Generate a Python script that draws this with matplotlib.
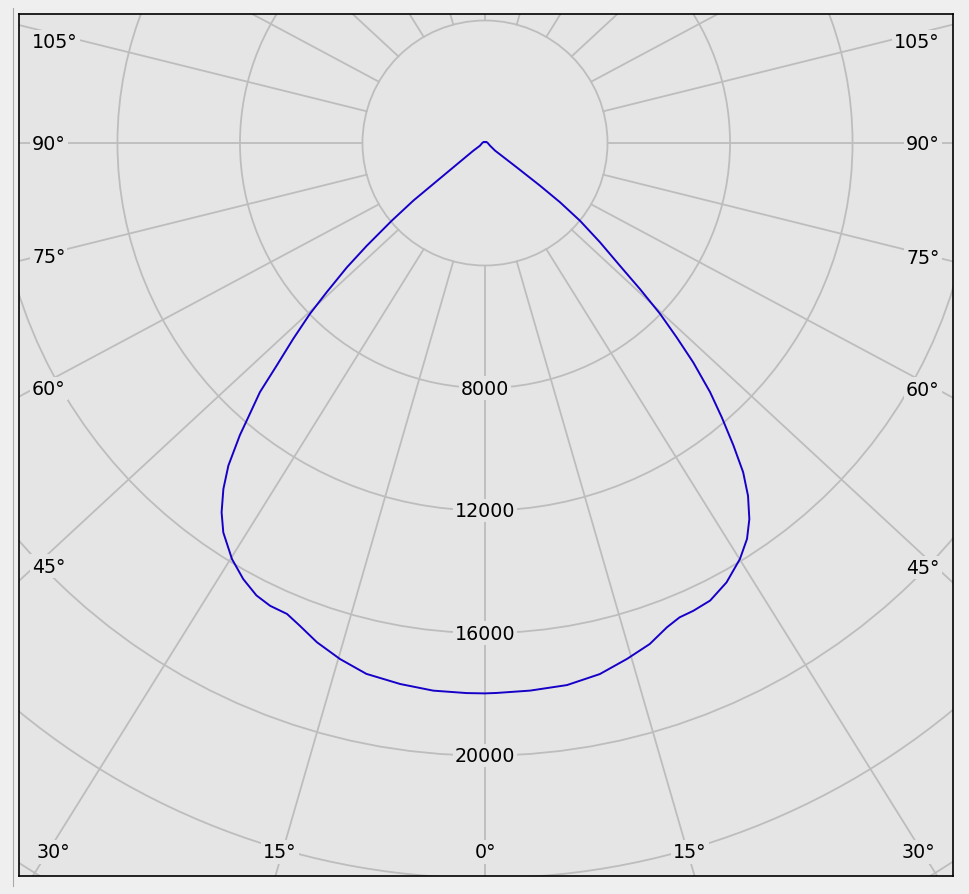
import numpy as np
import matplotlib.pyplot as plt
from matplotlib.patches import Circle
from matplotlib.lines import Line2D

#C0 plane = right half, C180 plane = left half.
angles_c0 = [0, 1.2, 4.7, 8.6, 12.2, 15.4, 18.2, 20.6, 22.3, 24.0, 26.2, 28.8, 31.5, 33.5,
             35.1, 36.7, 38.1, 39.4, 40.8, 42.1, 43.5, 44.6, 45.7, 46.7, 47.7, 49.2, 50.7,
             51.7, 52.2, 52.5, 52.9, 61.6, 90, 120, 150, 180]
cd_c0 = [17970, 17960, 17940, 17900, 17740, 17470, 17220, 16890, 16740, 16720, 16650, 16370,
         15930, 15500, 15010, 14370, 13660, 12780, 11830, 10960, 9880, 8910, 7990, 6950, 5960,
         4960, 4010, 3120, 2270, 1300, 410, 190, 90, 60, 40, 30]

angles_c180 = [0, 1.9, 5.4, 8.9, 12.6, 15.7, 18.6, 21.0, 22.8, 24.9, 26.8, 29.0, 31.3, 33.9,
               35.5, 37.1, 38.5, 40.0, 40.8, 42.1, 43.1, 44.4, 45.7, 46.7, 48.0, 49.0, 50.2,
               51.2, 51.6, 52.5, 56.6, 61.6, 90, 120, 150, 180]
cd_c180 = [17970, 17970, 17960, 17880, 17760, 17500, 17200, 16880, 16680, 16660, 16550, 16280,
           15900, 15320, 14810, 14160, 13460, 12450, 11830, 10960, 9960, 8950, 7990, 7100, 6070,
           5120, 3960, 3000, 2150, 1300, 460, 190, 90, 60, 40, 30]

#Grid settings.
ring_values = [4000, 8000, 12000, 16000, 20000, 24000, 28000, 32000]
ring_labels = [8000, 12000, 16000, 20000]
spoke_angles = list(range(-180, 180, 15))
spoke_start = 4000

BG = '#e5e5e5'
GRID = '#bdbdbd'
CURVE = '#1600c8'
FS = 13.7


def main():
    fig = plt.figure(figsize=(9.69, 8.95), dpi=100, facecolor='#efefef')
    ax = fig.add_axes([19 / 969, 18 / 895, 933.7 / 969, 862 / 895])
    ax.set_facecolor(BG)

    #View window in cd, same scale on both axes (about 32.65 cd per pixel).
    px = 32.65
    xmin, xmax = -466 * px, 467.7 * px
    ymin, ymax = -733 * px, 129 * px
    ax.set_xlim(xmin, xmax)
    ax.set_ylim(ymin, ymax)
    ax.set_xticks([])
    ax.set_yticks([])
    for s in ax.spines.values():
        s.set_linewidth(1.2)
        s.set_color('black')

    #Rings.
    for r in ring_values:
        ax.add_patch(Circle((0, 0), r, fill=False, edgecolor=GRID, lw=1.3, zorder=1))

    #Spokes, drawn from the inner ring outward (slightly widened like the original).
    k = 1.08
    ins = 16 * px
    box = dict(facecolor=BG, edgecolor='none', pad=1.5)
    for a in spoke_angles:
        t = np.radians(a)
        x0, y0 = spoke_start * np.sin(t), -spoke_start * np.cos(t)
        phi = np.arctan2(k * np.sin(t), np.cos(t))
        dx, dy = np.sin(phi), -np.cos(phi)
        L = 60000
        ax.plot([x0, x0 + L * dx], [y0, y0 + L * dy], color=GRID, lw=1.3, zorder=1)

        #Which frame edge the spoke leaves through.
        hits = []
        if dx < -1e-9:
            hits.append(((xmin - x0) / dx, 'left'))
        if dx > 1e-9:
            hits.append(((xmax - x0) / dx, 'right'))
        if dy < -1e-9:
            hits.append(((ymin - y0) / dy, 'bottom'))
        if dy > 1e-9:
            hits.append(((ymax - y0) / dy, 'top'))
        edge = min(hits)[1]
        if edge == 'top':
            continue
        label = '%d°' % abs(a)

        #Label sits on the spoke a little inside that edge.
        if edge == 'left':
            hy = y0 + (xmin + ins - x0) / dx * dy
            yy = min(max(hy, ymin + 28 * px), ymax - 28 * px)
            ax.text(xmin + 13 * px, yy, label, ha='left', va='center', fontsize=FS, bbox=box, zorder=3)
        elif edge == 'right':
            hy = y0 + (xmax - ins - x0) / dx * dy
            yy = min(max(hy, ymin + 28 * px), ymax - 28 * px)
            ax.text(xmax - 13 * px, yy, label, ha='right', va='center', fontsize=FS, bbox=box, zorder=3)
        else:
            hx = x0 + (ymin + ins - y0) / dy * dx
            xx = min(max(hx, xmin + 34 * px), xmax - 34 * px)
            ax.text(xx, ymin + 24 * px, label, ha='center', va='center', fontsize=FS, bbox=box, zorder=3)

    #Ring value labels on the nadir spoke.
    for r in ring_labels:
        ax.text(0, -r, str(r), ha='center', va='center', fontsize=FS, bbox=box, zorder=3)

    #Intensity curve: C180 half mirrored to the left, then the C0 half.
    ang = np.concatenate([-np.array(angles_c180[::-1]), np.array(angles_c0)])
    cd = np.concatenate([np.array(cd_c180[::-1]), np.array(cd_c0)])
    ang = np.radians(ang)
    ax.plot(cd * np.sin(ang), -cd * np.cos(ang), color=CURVE, lw=1.4, zorder=2,
            solid_joinstyle='round')

    #Thin splitter line at the left of the window.
    fig.add_artist(Line2D([13 / 969, 13 / 969], [8 / 895, 1 - 9 / 895], color='#a8a8a8', lw=0.8))

    fig.savefig('out.png', dpi=100, facecolor=fig.get_facecolor())


if __name__ == "__main__":
    main()
